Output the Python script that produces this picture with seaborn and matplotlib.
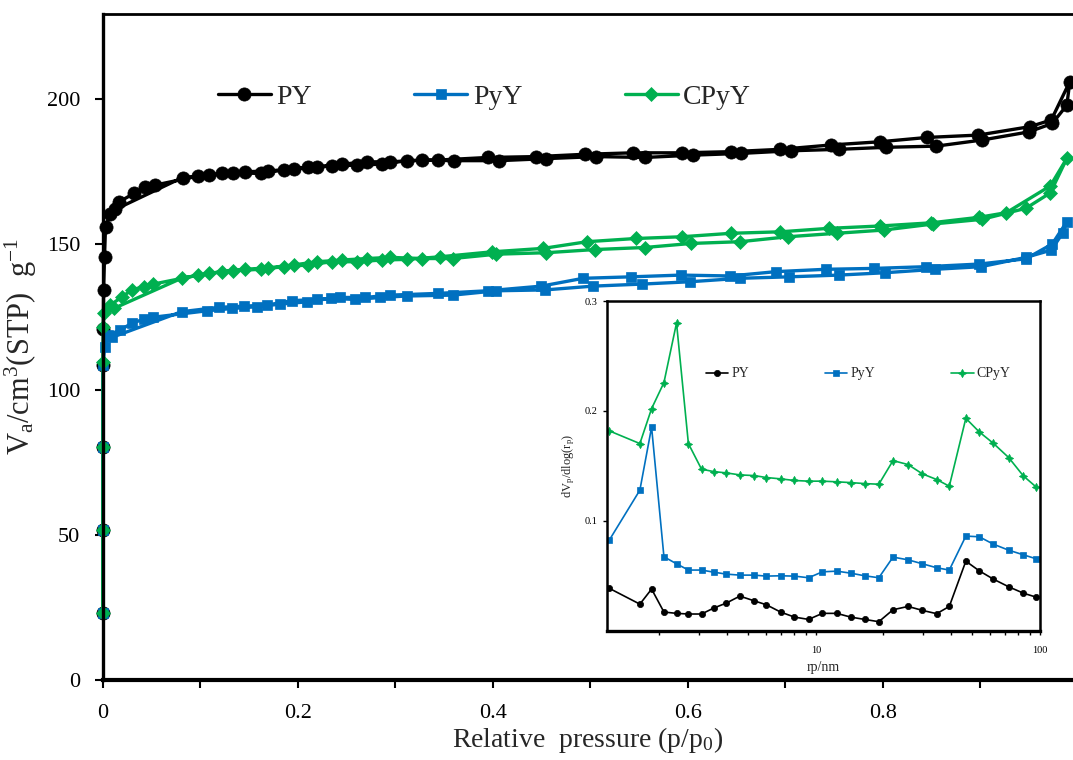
import matplotlib
matplotlib.use("Agg")
import matplotlib.pyplot as plt
import pandas as pd
import seaborn as sns

# Isotherm data (relative pressure p/p0, adsorbed volume cm3/g)
py_ads_p = [0.0001, 0.0002, 0.0003, 0.0005, 0.0008, 0.001, 0.002, 0.003, 0.008, 0.017,
            0.032, 0.044, 0.054, 0.098, 0.122, 0.146, 0.170, 0.196, 0.220, 0.246,
            0.271, 0.295, 0.328, 0.360, 0.407, 0.455, 0.506, 0.556, 0.606, 0.655,
            0.706, 0.755, 0.804, 0.855, 0.902, 0.950, 0.974, 0.989]
py_ads_v = [23.0, 51.6, 80.3, 108.4, 120.8, 134.3, 145.7, 156.0, 160.6, 164.6,
            167.5, 169.8, 170.4, 173.5, 174.4, 175.0, 175.2, 176.1, 176.7, 177.6,
            178.4, 178.4, 179.0, 178.8, 178.8, 179.5, 180.2, 179.9, 180.7, 181.3,
            182.2, 182.7, 183.4, 183.8, 185.9, 188.7, 191.6, 197.9]
py_des_p = [0.992, 0.973, 0.951, 0.898, 0.846, 0.797, 0.747, 0.695, 0.645, 0.594,
            0.544, 0.495, 0.445, 0.395, 0.344, 0.312, 0.287, 0.261, 0.235, 0.211,
            0.186, 0.162, 0.134, 0.109, 0.082, 0.013]
py_des_v = [206.0, 192.8, 190.5, 187.6, 186.8, 185.3, 184.2, 182.7, 181.9, 181.5,
            181.5, 181.0, 180.2, 179.9, 179.0, 178.8, 177.6, 177.3, 176.9, 176.5,
            175.6, 174.4, 174.6, 173.8, 173.0, 162.0]

pyy_ads_p = [0.0001, 0.0002, 0.0003, 0.0005, 0.002, 0.006, 0.018, 0.030, 0.042, 0.052,
             0.107, 0.133, 0.158, 0.182, 0.210, 0.234, 0.259, 0.285, 0.312, 0.359,
             0.404, 0.454, 0.503, 0.553, 0.602, 0.654, 0.704, 0.755, 0.802, 0.854,
             0.901, 0.947, 0.973, 0.985, 0.989]
pyy_ads_v = [23.0, 51.6, 80.3, 108.4, 114.5, 118.8, 120.5, 122.8, 124.2, 124.9,
             127.1, 127.9, 128.5, 129.4, 130.2, 131.4, 131.0, 131.7, 132.2, 132.5,
             134.0, 134.3, 135.6, 136.3, 137.1, 138.3, 138.8, 139.4, 140.2, 141.4,
             142.3, 145.5, 148.0, 154.0, 157.8]
pyy_des_p = [0.974, 0.947, 0.899, 0.845, 0.791, 0.742, 0.691, 0.644, 0.593, 0.542,
             0.493, 0.450, 0.395, 0.344, 0.295, 0.269, 0.244, 0.220, 0.194, 0.169,
             0.145, 0.119, 0.081, 0.010]
pyy_des_v = [150.1, 145.0, 143.2, 142.3, 141.7, 141.4, 140.6, 139.1, 139.4, 138.8,
             138.3, 135.6, 134.0, 133.1, 132.5, 131.7, 131.7, 131.0, 130.6, 129.1,
             128.7, 128.3, 126.8, 118.0]

cpyy_ads_p = [0.0001, 0.0002, 0.0003, 0.0005, 0.0008, 0.001, 0.008, 0.020, 0.030, 0.042,
              0.052, 0.098, 0.122, 0.146, 0.170, 0.196, 0.220, 0.246, 0.271, 0.295,
              0.328, 0.359, 0.404, 0.455, 0.505, 0.556, 0.604, 0.654, 0.703, 0.753,
              0.801, 0.852, 0.902, 0.947, 0.972, 0.989]
cpyy_ads_v = [23.0, 51.6, 80.3, 109.5, 121.6, 126.2, 129.1, 131.9, 134.3, 135.4,
              136.3, 139.4, 140.6, 141.4, 141.9, 142.9, 144.0, 144.6, 145.1, 145.5,
              145.1, 145.1, 146.6, 147.1, 148.2, 148.9, 150.3, 150.9, 152.6, 153.8,
              154.9, 157.0, 158.6, 162.4, 167.7, 179.6]
cpyy_des_p = [0.972, 0.927, 0.899, 0.850, 0.797, 0.745, 0.695, 0.645, 0.594, 0.547,
              0.497, 0.452, 0.399, 0.346, 0.312, 0.287, 0.261, 0.235, 0.211, 0.186,
              0.162, 0.134, 0.109, 0.081, 0.012]
cpyy_des_v = [170.1, 160.9, 159.3, 157.4, 156.3, 155.5, 154.3, 153.8, 152.6, 152.0,
              150.9, 148.6, 147.4, 145.7, 144.8, 144.6, 144.0, 144.0, 142.9, 142.3,
              141.4, 140.9, 140.0, 138.3, 128.0]

# Pore size distribution (inset)
rp = [1.20, 1.64, 1.85, 2.10, 2.39, 2.70, 3.09, 3.50, 3.99, 4.58,
      5.29, 6.02, 6.96, 8.03, 9.28, 10.7, 12.4, 14.3, 16.5, 19.1,
      22.1, 25.8, 29.9, 34.6, 39.4, 46.7, 53.6, 61.9, 72.5, 84.3, 96.0]
psd_py = [0.0385, 0.0242, 0.0379, 0.0170, 0.0158, 0.0152, 0.0152, 0.0206, 0.0252, 0.0315,
          0.0273, 0.0236, 0.0170, 0.0124, 0.0103, 0.0158, 0.0158, 0.0124, 0.0103, 0.0082,
          0.0191, 0.0221, 0.0185, 0.0155, 0.0221, 0.0633, 0.0545, 0.0470, 0.0400, 0.0342, 0.0306]
psd_pyy = [0.0827, 0.1279, 0.1852, 0.0673, 0.0609, 0.0552, 0.0552, 0.0533, 0.0515, 0.0506,
           0.0506, 0.0497, 0.0500, 0.0497, 0.0482, 0.0536, 0.0542, 0.0524, 0.0500, 0.0482,
           0.0670, 0.0645, 0.0609, 0.0573, 0.0552, 0.0861, 0.0855, 0.0788, 0.0733, 0.0691, 0.0655]
psd_cpyy = [0.1818, 0.1703, 0.2021, 0.2258, 0.2800, 0.1703, 0.1470, 0.1448, 0.1436, 0.1418,
            0.1412, 0.1394, 0.1382, 0.1367, 0.1361, 0.1361, 0.1355, 0.1348, 0.1339, 0.1333,
            0.1548, 0.1512, 0.1427, 0.1376, 0.1315, 0.1933, 0.1809, 0.1706, 0.1576, 0.1409, 0.1309]

labels = ['PY', 'PyY', 'CPyY']
colors = ['#000000', '#0070C0', '#00B050']

sns.set_theme(style='ticks')
plt.rcParams['font.family'] = ['Liberation Serif', 'DejaVu Serif']
plt.rcParams['mathtext.fontset'] = 'custom'
plt.rcParams['mathtext.rm'] = 'Liberation Serif'
plt.rcParams['mathtext.default'] = 'regular'

fig = plt.figure(figsize=(10.73, 7.6), dpi=100)
ax = fig.add_axes([0.0956, 0.1053, 0.9044, 0.8763])

iso = [(py_ads_p + py_des_p, py_ads_v + py_des_v, 'o', 9.5),
       (pyy_ads_p + pyy_des_p, pyy_ads_v + pyy_des_v, 's', 7),
       (cpyy_ads_p + cpyy_des_p, cpyy_ads_v + cpyy_des_v, 'D', 7.5)]
for (p, v, mk, ms), lab, col in zip(iso, labels, colors):
    d = pd.DataFrame({'p': p, 'v': v})
    sns.lineplot(data=d, x='p', y='v', sort=False, estimator=None, ax=ax,
                 color=col, linewidth=2.4, marker=mk, markersize=ms,
                 markeredgecolor=col, markeredgewidth=0.5, label=lab, clip_on=False)

ax.set_xlim(0, 0.9953)
ax.set_ylim(0, 229.3)
ax.set_xticks([0, 0.2, 0.4, 0.6, 0.8])
ax.set_xticklabels(['0', '0.2', '0.4', '0.6', '0.8'])
ax.set_xticks([0.1, 0.3, 0.5, 0.7, 0.9], minor=True)
ax.set_yticks([0, 50, 100, 150, 200])
ax.tick_params(axis='both', which='both', direction='out', colors='black', labelsize=16,
               length=6, width=1.5)
ax.tick_params(axis='x', pad=11)
ax.tick_params(axis='y', pad=10)
ax.spines['right'].set_visible(False)
ax.spines['left'].set_linewidth(2.4)
ax.spines['bottom'].set_linewidth(3)
ax.spines['top'].set_linewidth(2)
for s in ax.spines.values():
    s.set_color('black')
ax.set_xlabel('Relative  pressure (p/p$_0$)', fontsize=20, labelpad=2)
ax.set_ylabel('V$_a$/cm$^3$(STP)  g$^{-1}$', fontsize=22, labelpad=6)
ax.legend(loc='center left', bbox_to_anchor=(0.093, 0.875), ncol=3, frameon=False,
          fontsize=20, handlelength=1.9, handletextpad=0.2, columnspacing=3.7)

# Inset: pore size distribution
ax2 = fig.add_axes([0.5657, 0.1701, 0.4035, 0.4338])
ax2.set_facecolor('white')
psd = [(psd_py, 'o', 4.5), (psd_pyy, 's', 5), (psd_cpyy, (4, 1, 0), 6)]
for (vals, mk, ms), lab, col in zip(psd, labels, colors):
    d = pd.DataFrame({'r': rp, 'v': vals})
    sns.lineplot(data=d, x='r', y='v', sort=False, estimator=None, ax=ax2,
                 color=col, linewidth=1.2, marker=mk, markersize=ms,
                 markeredgecolor=col, markeredgewidth=0.5, label=lab)
ax2.set_xscale('log')
ax2.set_xlim(1.17, 100)
ax2.set_ylim(0, 0.3)
ax2.set_xticks([10, 100])
ax2.set_xticklabels(['10', '100'])
ax2.set_yticks([0.1, 0.2, 0.3])
ax2.set_yticklabels(['0.1', '0.2', '0.3'])
ax2.tick_params(axis='both', which='both', direction='out', colors='black', labelsize=7.5,
                length=3, width=1)
ax2.tick_params(axis='x', pad=8)
for s in ax2.spines.values():
    s.set_color('black')
    s.set_linewidth(1.8)
ax2.spines['bottom'].set_linewidth(2.4)
ax2.set_xlabel('rp/nm', fontsize=10, labelpad=4)
ax2.set_ylabel('dV$_p$/dlog(r$_p$)', fontsize=9, labelpad=6)
ax2.legend(loc='center left', bbox_to_anchor=(0.2, 0.779), ncol=3, frameon=False,
           fontsize=10, handlelength=1.6, handletextpad=0.2, columnspacing=5.5)

plt.savefig('out.png', dpi=100)
